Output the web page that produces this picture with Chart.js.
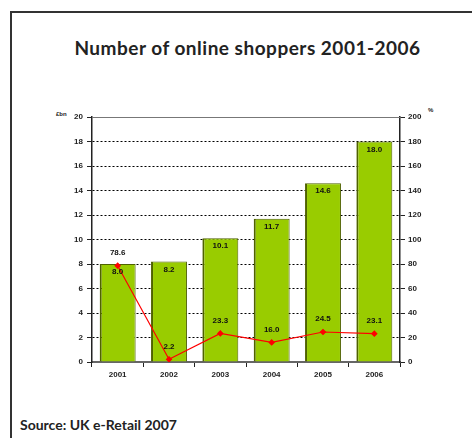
<!DOCTYPE html>
<html lang="en">
<head>
  <meta charset="UTF-8">
  <title>Number of online shoppers 2001-2006</title>
  <script src="https://cdn.jsdelivr.net/npm/chart.js"></script>
  <style>
    html, body { margin: 0; padding: 0; background: #fff; overflow: hidden; }
    .frame {
      position: absolute; left: 10px; top: 11px;
      width: 500px; height: 460px;
      border: 2px solid #333;
    }
    .wrap { position: absolute; left: 0; top: 0; width: 472px; height: 438px; }
    h1 {
      position: absolute; left: 0; width: 495px; top: 36px; margin: 0;
      text-align: center; font: bold 19px Lato, "Open Sans", sans-serif; color: #222;
      letter-spacing: 0.5px;
    }
    .source {
      position: absolute; left: 20px; top: 416px;
      font: bold 14px Lato, "Open Sans", sans-serif; color: #222;
    }
    .unit { position: absolute; font: bold 6px Arial, "Liberation Sans", sans-serif; color: #222; }
  </style>
</head>
<body>
<div class="frame"></div>
<h1>Number of online shoppers 2001-2006</h1>
<div class="unit" style="left:56px; top:111px;">£bn</div>
<div class="unit" style="left:428px; top:107px;">%</div>
<div class="source">Source: UK e-Retail 2007</div>
<div class="wrap"><canvas id="chart" width="472" height="438"></canvas></div>

<script>
  const years = ["2001", "2002", "2003", "2004", "2005", "2006"];
  const salesBn = [8.0, 8.2, 10.1, 11.7, 14.6, 18.0];
  const growthPct = [78.6, 2.2, 23.3, 16.0, 24.5, 23.1];
  const leftTicks = [0, 2, 4, 6, 8, 10, 12, 14, 16, 18, 20];
  const rightTicks = [0, 20, 40, 60, 80, 100, 120, 140, 160, 180, 200];

  const tickFont = { family: "Arial, 'Liberation Sans', sans-serif", size: 8, weight: "bold" };

  // value labels on bars and points
  const valueLabels = {
    id: "valueLabels",
    afterDatasetsDraw(chart) {
      const ctx = chart.ctx;
      ctx.save();
      ctx.font = "bold 8px Arial, 'Liberation Sans', sans-serif";
      ctx.fillStyle = "#111";
      ctx.textAlign = "center";
      ctx.textBaseline = "middle";
      chart.getDatasetMeta(1).data.forEach((el, i) => {
        ctx.fillText(salesBn[i].toFixed(1), el.x, el.y + 8);
      });
      chart.getDatasetMeta(0).data.forEach((el, i) => {
        ctx.fillText(growthPct[i].toFixed(1), el.x, el.y - 13);
      });
      ctx.restore();
    }
  };

  // solid grey top line of the plot
  const topLine = {
    id: "topLine",
    beforeDatasetsDraw(chart) {
      const { ctx, chartArea } = chart;
      ctx.save();
      ctx.strokeStyle = "#777";
      ctx.lineWidth = 1;
      ctx.beginPath();
      ctx.moveTo(chartArea.left, chartArea.top + 0.5);
      ctx.lineTo(chartArea.right, chartArea.top + 0.5);
      ctx.stroke();
      ctx.restore();
    }
  };

  new Chart(document.getElementById("chart"), {
    data: {
      labels: years,
      datasets: [
        {
          type: "line",
          label: "% growth",
          data: growthPct,
          yAxisID: "y2",
          borderColor: "#ff0000",
          backgroundColor: "#ff0000",
          borderWidth: 1.2,
          pointStyle: "rectRot",
          pointRadius: 2.5,
          pointHoverRadius: 2.5,
          tension: 0,
          order: 0
        },
        {
          type: "bar",
          label: "£bn",
          data: salesBn,
          yAxisID: "y",
          backgroundColor: "#99cc00",
          borderColor: "#4f6200",
          borderWidth: { top: 1, left: 2, right: 1, bottom: 0 },
          borderSkipped: false,
          categoryPercentage: 0.7,
          barPercentage: 1,
          order: 1
        }
      ]
    },
    options: {
      responsive: false,
      animation: false,
      layout: { padding: { top: 117, left: 0, right: 0, bottom: 0 } },
      plugins: { legend: { display: false }, tooltip: { enabled: false } },
      scales: {
        x: {
          grid: { offset: true, drawOnChartArea: false, tickLength: 5, tickColor: "#222", tickWidth: 1 },
          border: { color: "#666", width: 2 },
          ticks: { color: "#222", font: tickFont, padding: 3 },
          afterFit(scale) { scale.height = 76; }
        },
        y: {
          position: "left",
          min: 0, max: 20,
          afterBuildTicks(scale) { scale.ticks = leftTicks.map(v => ({ value: v })); },
          grid: {
            color: ctx => (ctx.tick && (ctx.tick.value === 20 || ctx.tick.value === 0)) ? "rgba(0,0,0,0)" : "#000",
            lineWidth: 1,
            tickLength: 5,
            tickColor: "#222",
            tickBorderDash: []
          },
          border: { color: "#222", width: 1.5, dash: [2, 2] },
          ticks: { color: "#222", font: tickFont, padding: 4 },
          afterFit(scale) { scale.width = 92; }
        },
        y2: {
          position: "right",
          min: 0, max: 200,
          afterBuildTicks(scale) { scale.ticks = rightTicks.map(v => ({ value: v })); },
          grid: { drawOnChartArea: false, tickLength: 5, tickColor: "#222" },
          border: { color: "#222", width: 1.5 },
          ticks: { color: "#222", font: tickFont, padding: 3 },
          afterFit(scale) { scale.width = 72; }
        }
      }
    },
    plugins: [valueLabels, topLine]
  });
</script>
</body>
</html>
